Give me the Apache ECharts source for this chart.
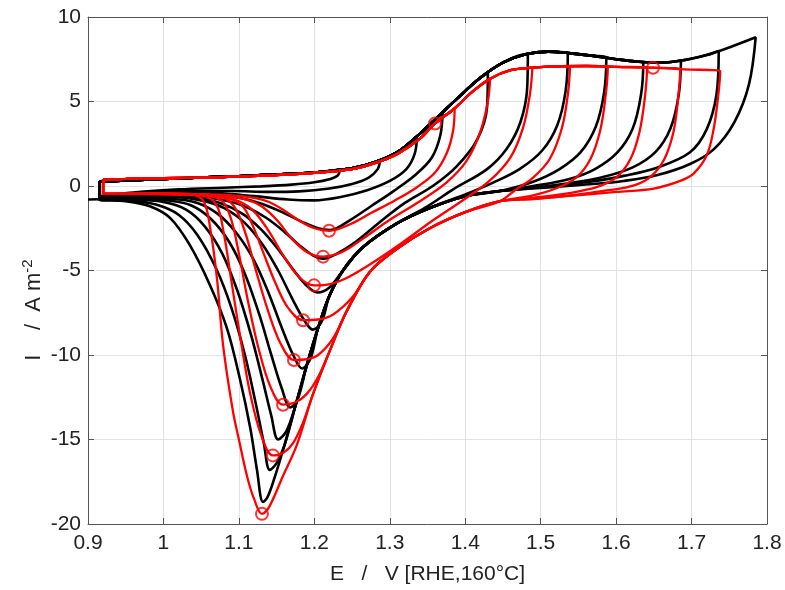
<!DOCTYPE html>
<html><head><meta charset="utf-8">
<script src="https://cdn.jsdelivr.net/npm/echarts@6/dist/echarts.min.js"></script>
<style>html,body{margin:0;padding:0;background:#fff}#c{width:785px;height:590px}</style>
</head><body><div id="c"></div>
<script>
// ---- axis ticks ----
const xTicks = [0.9, 1.0, 1.1, 1.2, 1.3, 1.4, 1.5, 1.6, 1.7, 1.8];
const yTicks = [-20, -15, -10, -5, 0, 5, 10];

// ---- shared anodic sweeps [E (V), I (A m^-2)] ----
const blackUp = [[0.915,0.25],[0.95,0.33],[1.0,0.42],[1.05,0.5],[1.1,0.58],[1.15,0.68],[1.2,0.8],[1.25,1.05],[1.28,1.4],[1.31,2.0],[1.34,3.1],[1.365,4.15],[1.39,5.2],[1.42,6.4],[1.45,7.3],[1.48,7.8],[1.51,7.95],[1.54,7.85],[1.57,7.7],[1.60,7.5],[1.63,7.35],[1.66,7.3],[1.69,7.45],[1.72,7.75],[1.75,8.2],[1.785,8.8]];
const redUp = [[0.92,0.4],[0.95,0.42],[1.0,0.46],[1.05,0.5],[1.1,0.56],[1.15,0.65],[1.2,0.78],[1.25,1.0],[1.28,1.35],[1.31,1.9],[1.34,2.8],[1.36,3.7],[1.386,4.6],[1.41,5.6],[1.433,6.35],[1.46,6.85],[1.489,7.0],[1.52,7.08],[1.56,7.1],[1.6,7.05],[1.649,7.0],[1.69,6.9],[1.738,6.8]];

// ---- shared cathodic envelopes (E decreasing) ----
const blackBand = [[1.446,-0.3],[1.40,-0.6],[1.353,-1.3],[1.31,-2.2],[1.265,-3.6],[1.238,-5.0],[1.22,-6.5],[1.205,-8.4],[1.19,-10.6],[1.175,-13.0],[1.16,-15.4],[1.147,-17.3],[1.138,-18.4]];
const redBand = [[1.446,-0.9],[1.40,-1.55],[1.353,-2.5],[1.31,-3.7],[1.274,-5.06],[1.243,-7.4],[1.22,-9.8],[1.198,-12.35],[1.177,-15.3],[1.158,-17.2],[1.14,-19.0]];

// ---- black cycles ----
const blackVertex = [1.234,1.287,1.336,1.37,1.43,1.483,1.536,1.587,1.636,1.686,1.736,1.785];
const blackBandRange = [null,null,null,null,null,[1.31,1.238],[1.353,1.22],[1.446,1.205],[1.446,1.19],[1.446,1.175],[1.446,1.16],[1.446,1.138]];
const blackDrop = [
  [[1.234,0.97],[1.231,0.62],[1.22,0.4],[1.2,0.22],[1.17,0.08],[1.13,-0.02],[1.08,-0.1],[1.02,-0.2],[0.96,-0.38],[0.915,-0.6]],
  [[1.287,1.5],[1.284,1.0],[1.272,0.5],[1.25,0.12],[1.22,-0.15],[1.18,-0.32],[1.14,-0.35],[1.09,-0.3],[1.03,-0.3],[0.97,-0.42],[0.915,-0.62]],
  [[1.336,2.9],[1.333,1.9],[1.322,1.0],[1.3,0.3],[1.27,-0.25],[1.235,-0.65],[1.2,-0.85],[1.165,-0.8],[1.12,-0.6],[1.07,-0.42],[1.0,-0.38],[0.95,-0.5],[0.915,-0.64]],
  [[1.37,4.35],[1.367,3.0],[1.356,1.7],[1.335,0.7],[1.305,-0.3],[1.275,-1.2],[1.248,-2.0],[1.221,-2.6]],
  [[1.43,6.7],[1.429,4.7],[1.416,2.76],[1.389,1.18],[1.357,0.0],[1.32,-1.0],[1.285,-2.2],[1.255,-3.3],[1.23,-4.0],[1.212,-4.3]],
  [[1.483,7.8],[1.482,5.7],[1.473,3.76],[1.455,2.2],[1.429,1.0],[1.384,-0.2],[1.35,-1.2]],
  [[1.536,7.86],[1.533,5.6],[1.522,3.6],[1.502,2.1],[1.472,1.0],[1.437,0.2],[1.40,-0.5]],
  [[1.587,7.6],[1.584,5.5],[1.573,3.5],[1.553,2.0],[1.525,1.0],[1.49,0.25]],
  [[1.636,7.34],[1.633,5.4],[1.622,3.4],[1.602,2.0],[1.572,1.0],[1.537,0.4],[1.49,0.0]],
  [[1.686,7.43],[1.683,5.4],[1.672,3.4],[1.652,2.0],[1.622,1.1],[1.58,0.5],[1.535,0.15],[1.49,-0.1]],
  [[1.736,7.99],[1.733,5.4],[1.72,3.35],[1.698,2.0],[1.655,1.1],[1.61,0.6],[1.565,0.25],[1.52,0.0],[1.49,-0.1]],
  [[1.785,8.8],[1.776,6.0],[1.757,3.8],[1.73,2.2],[1.698,1.3],[1.655,0.65],[1.61,0.3],[1.565,0.1],[1.52,-0.05],[1.49,-0.15]]
];
const blackTail = [
  [],[],[],
  [[1.205,-2.5],[1.185,-2.15],[1.16,-1.6],[1.13,-1.05],[1.1,-0.7],[1.06,-0.5],[1.0,-0.45],[0.95,-0.55],[0.915,-0.66]],
  [[1.198,-4.1],[1.18,-3.5],[1.16,-2.7],[1.135,-1.85],[1.105,-1.15],[1.07,-0.75],[1.03,-0.55],[0.98,-0.55],[0.915,-0.68]],
  [[1.22,-6.0],[1.204,-6.3],[1.19,-5.9],[1.173,-5.0],[1.153,-3.8],[1.13,-2.6],[1.105,-1.65],[1.075,-1.0],[1.04,-0.7],[1.0,-0.6],[0.95,-0.62],[0.915,-0.7]],
  [[1.21,-8.0],[1.198,-8.5],[1.186,-7.9],[1.17,-6.6],[1.152,-5.0],[1.132,-3.5],[1.108,-2.2],[1.08,-1.3],[1.05,-0.85],[1.01,-0.65],[0.96,-0.65],[0.915,-0.7]],
  [[1.195,-10.2],[1.184,-10.8],[1.172,-10.0],[1.157,-8.4],[1.14,-6.4],[1.12,-4.4],[1.097,-2.8],[1.072,-1.65],[1.045,-1.0],[1.01,-0.75],[0.96,-0.7],[0.915,-0.72]],
  [[1.178,-12.6],[1.168,-13.1],[1.157,-12.0],[1.143,-10.0],[1.127,-7.6],[1.108,-5.2],[1.087,-3.3],[1.063,-1.95],[1.037,-1.15],[1.005,-0.85],[0.96,-0.75],[0.915,-0.75]],
  [[1.163,-14.5],[1.152,-15.0],[1.143,-13.6],[1.131,-11.4],[1.116,-8.8],[1.098,-6.2],[1.078,-4.0],[1.055,-2.4],[1.03,-1.4],[1.0,-0.95],[0.96,-0.8],[0.915,-0.78]],
  [[1.15,-16.4],[1.141,-16.8],[1.133,-15.2],[1.122,-12.8],[1.108,-10.0],[1.09,-7.2],[1.07,-4.9],[1.045,-2.9],[1.02,-1.7],[0.99,-1.1],[0.955,-0.85],[0.915,-0.8]],
  [[1.132,-18.7],[1.124,-16.8],[1.115,-14.3],[1.101,-11.35],[1.084,-8.4],[1.062,-5.9],[1.035,-3.5],[1.009,-1.9],[0.982,-1.2],[0.95,-0.9],[0.915,-0.8]]
];
const blackLead = [[0.9,-0.8],[0.915,-0.78]];

// ---- red cycles ----
const redVertex = [1.386,1.433,1.489,1.539,1.589,1.641,1.685,1.738];
const redBandRange = [null,null,null,[1.446,1.274],[1.446,1.243],[1.446,1.22],[1.446,1.198],[1.446,1.14]];
const redDrop = [
  [[1.386,4.6],[1.384,3.3],[1.376,2.0],[1.36,0.8],[1.335,-0.1],[1.305,-0.9],[1.275,-1.6],[1.248,-2.25],[1.2195,-2.65]],
  [[1.433,6.35],[1.43,5.0],[1.42,3.2],[1.402,1.5],[1.375,0.2],[1.34,-0.9],[1.3,-2.0],[1.265,-3.1],[1.237,-3.9],[1.2115,-4.18]],
  [[1.489,7.0],[1.486,5.5],[1.477,3.5],[1.46,1.7],[1.432,0.3],[1.395,-0.9],[1.355,-2.1],[1.315,-3.4],[1.275,-4.6],[1.24,-5.5],[1.215,-5.85],[1.1996,-5.88]],
  [[1.539,7.08],[1.536,5.4],[1.528,3.4],[1.512,1.6],[1.49,0.5],[1.466,-0.25]],
  [[1.589,7.06],[1.586,5.3],[1.579,3.3],[1.566,1.6],[1.547,0.5],[1.52,-0.15],[1.49,-0.55]],
  [[1.641,7.0],[1.638,5.2],[1.631,3.2],[1.619,1.6],[1.6,0.5],[1.575,-0.05],[1.54,-0.4],[1.49,-0.7]],
  [[1.685,6.9],[1.682,5.1],[1.676,3.2],[1.664,1.6],[1.647,0.6],[1.625,0.05],[1.59,-0.25],[1.54,-0.55],[1.49,-0.75]],
  [[1.738,6.8],[1.735,5.2],[1.729,3.3],[1.72,1.8],[1.703,0.75],[1.685,0.3],[1.65,-0.15],[1.60,-0.35],[1.535,-0.6],[1.49,-0.78]]
];
const redTail = [
  [[1.2,-2.5],[1.18,-2.05],[1.16,-1.45],[1.14,-0.95],[1.12,-0.7],[1.09,-0.55],[1.04,-0.48],[0.98,-0.46],[0.92,-0.47]],
  [[1.19,-3.9],[1.17,-3.1],[1.15,-2.0],[1.13,-1.2],[1.11,-0.8],[1.08,-0.6],[1.03,-0.5],[0.97,-0.46],[0.92,-0.47]],
  [[1.18,-5.4],[1.16,-4.2],[1.14,-2.7],[1.12,-1.5],[1.1,-0.9],[1.07,-0.6],[1.02,-0.5],[0.96,-0.46],[0.92,-0.47]],
  [[1.25,-6.6],[1.225,-7.6],[1.205,-7.9],[1.185,-7.94],[1.165,-7.2],[1.148,-5.7],[1.132,-3.9],[1.118,-2.3],[1.105,-1.2],[1.085,-0.7],[1.05,-0.5],[1.0,-0.46],[0.92,-0.47]],
  [[1.225,-9.0],[1.205,-10.0],[1.19,-10.25],[1.173,-10.3],[1.155,-9.3],[1.138,-7.3],[1.122,-4.9],[1.108,-2.7],[1.095,-1.3],[1.08,-0.7],[1.05,-0.5],[1.0,-0.46],[0.92,-0.47]],
  [[1.205,-11.3],[1.19,-12.3],[1.175,-12.8],[1.1585,-12.94],[1.142,-11.9],[1.126,-9.6],[1.112,-6.8],[1.1,-4.0],[1.09,-2.0],[1.078,-0.9],[1.055,-0.55],[1.0,-0.46],[0.92,-0.47]],
  [[1.185,-14.0],[1.172,-15.2],[1.16,-15.75],[1.145,-15.94],[1.13,-14.8],[1.115,-12.3],[1.102,-9.0],[1.09,-5.6],[1.08,-2.8],[1.07,-1.1],[1.05,-0.55],[1.0,-0.46],[0.92,-0.47]],
  [[1.1306,-19.4],[1.12,-18.5],[1.111,-17.2],[1.1,-15.0],[1.092,-13.3],[1.079,-9.4],[1.071,-5.5],[1.062,-2.5],[1.053,-0.9],[1.035,-0.5],[1.0,-0.45],[0.92,-0.47]]
];
// red circle markers
const redMarks = [[1.2195,-2.65],[1.2115,-4.18],[1.1996,-5.88],[1.185,-7.94],[1.173,-10.3],[1.1585,-12.94],[1.145,-15.94],[1.1306,-19.4],[1.36,3.7],[1.649,7.0]];

function buildCycle(up, v, drop, band, range, tail) {
  const a = up.filter(p => p[0] < v);
  const b = range ? band.filter(p => p[0] <= range[0] && p[0] >= range[1]) : [];
  return a.concat(drop, b, tail, [up[0]]);
}

const series = [];
const lineBase = {type:'line', showSymbol:false, smooth:0.35, silent:true, animation:false, z:2};
series.push(Object.assign({}, lineBase, {data: blackLead, lineStyle:{color:'#000', width:2.6}}));
for (let i = 0; i < blackVertex.length; i++) {
  series.push(Object.assign({}, lineBase, {
    data: buildCycle(blackUp, blackVertex[i], blackDrop[i], blackBand, blackBandRange[i], blackTail[i]),
    lineStyle:{color:'#000', width:2.6}
  }));
}
for (let i = 0; i < redVertex.length; i++) {
  series.push(Object.assign({}, lineBase, {
    data: buildCycle(redUp, redVertex[i], redDrop[i], redBand, redBandRange[i], redTail[i]),
    lineStyle:{color:'#ff0000', width:2.3}, z:3
  }));
}
series.push({type:'scatter', data: redMarks, symbol:'circle', symbolSize:12, silent:true, animation:false, z:4,
  itemStyle:{color:'rgba(0,0,0,0)', borderColor:'#ff0000', borderWidth:2}});

const font = 'Liberation Sans, Arial, sans-serif';
const axisCol = '#555';
const chart = echarts.init(document.getElementById('c'), null, {renderer:'canvas'});
chart.setOption({
  backgroundColor:'#fff',
  grid:{left:88, right:18, top:17, bottom:63, containLabel:false},
  graphic:[{
    type:'text', x:34, y:310, rotation:Math.PI/2, silent:true,
    style:{text:'I    /  A m{s|-2}', fontSize:22, fill:'#222', fontFamily:font, align:'center', verticalAlign:'middle',
      rich:{s:{fontSize:15, fill:'#222', fontFamily:font, padding:[0,0,12,0]}}}
  }],
  xAxis:[{
    type:'value', min:xTicks[0], max:xTicks[xTicks.length-1], interval:0.1, position:'bottom',
    axisLine:{show:true, onZero:false, lineStyle:{color:axisCol, width:1}},
    axisTick:{show:true, inside:true, length:6, lineStyle:{color:axisCol}},
    axisLabel:{fontSize:21, color:'#222', fontFamily:font, margin:9, formatter:v=>String(Math.round(v*10)/10)},
    splitLine:{show:true, lineStyle:{color:'#e2e2e2', width:1}},
    name:'E   /   V [RHE,160°C]', nameLocation:'middle', nameGap:40,
    nameTextStyle:{fontSize:21, color:'#222', fontFamily:font}
  },{
    type:'value', min:xTicks[0], max:xTicks[xTicks.length-1], interval:0.1, position:'top',
    axisLine:{show:true, onZero:false, lineStyle:{color:axisCol, width:1}},
    axisTick:{show:true, inside:true, length:6, lineStyle:{color:axisCol}},
    axisLabel:{show:false}, splitLine:{show:false}
  }],
  yAxis:[{
    type:'value', min:yTicks[0], max:yTicks[yTicks.length-1], interval:5, position:'left',
    axisLine:{show:true, onZero:false, lineStyle:{color:axisCol, width:1}},
    axisTick:{show:true, inside:true, length:6, lineStyle:{color:axisCol}},
    axisLabel:{fontSize:21, color:'#222', fontFamily:font, margin:7},
    splitLine:{show:true, lineStyle:{color:'#e2e2e2', width:1}}
  },{
    type:'value', min:yTicks[0], max:yTicks[yTicks.length-1], interval:5, position:'right',
    axisLine:{show:true, onZero:false, lineStyle:{color:axisCol, width:1}},
    axisTick:{show:true, inside:true, length:6, lineStyle:{color:axisCol}},
    axisLabel:{show:false}, splitLine:{show:false}
  }],
  series: series
});
</script></body></html>
